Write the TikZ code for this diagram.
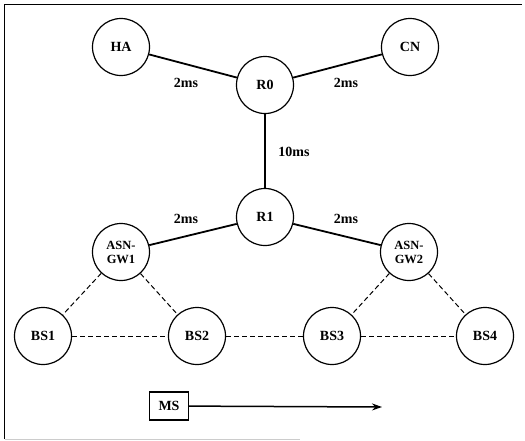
\documentclass[tikz,border=0pt]{standalone}
\usepackage{fontspec}
\setmainfont{Liberation Serif}
\usepackage{tikz}
\usetikzlibrary{arrows.meta}

\tikzset{
  netnode/.style={draw, circle, line width=1.2pt, minimum size=57pt, inner sep=0pt, align=center, font=\bfseries\fontsize{14}{14}\selectfont},
  delay/.style={font=\bfseries\fontsize{14}{14}\selectfont},
  wired/.style={line width=1.8pt},
  wireless/.style={line width=1pt, dash pattern=on 5pt off 3pt}
}

\begin{document}
\begin{tikzpicture}[x=1pt, y=-1pt]
                \useasboundingbox (0, 0) rectangle (525, 440);
                % Frame
                \draw[line width=1.2pt] (4.5, 439) -- (4.5, 4.5) -- (522, 4.5);
                \draw[black!20] (4.5, 439) -- (300, 439);

                % Core
                \node[netnode] (ha) at (121, 47) {HA};
                \node[netnode] (r0) at (265, 85) {R0};
                \node[netnode] (cn) at (410, 47) {CN};
                \node[netnode] (r1) at (265, 217) {R1};

                % Gateways
                \node[netnode, font=\bfseries\fontsize{12.5}{14}\selectfont] (gw1) at (121, 252) {ASN-\\GW1};
                \node[netnode, font=\bfseries\fontsize{12.5}{14}\selectfont] (gw2) at (409, 252) {ASN-\\GW2};

                % Base stations
                \node[netnode] (bs1) at (43, 336) {BS1};
                \node[netnode] (bs2) at (197, 336) {BS2};
                \node[netnode] (bs3) at (332, 336) {BS3};
                \node[netnode] (bs4) at (485, 336) {BS4};

                % Mobile station
                \node[draw, line width=1.2pt, minimum width=39pt, minimum height=28pt, delay] (ms) at (169, 406) {MS};
                \coordinate (msend) at (382, 407);

                % Wired links
                \draw[wired] (ha) -- (r0);
                \draw[wired] (cn) -- (r0);
                \draw[wired] (r0) -- (r1);
                \draw[wired] (r1) -- (gw1);
                \draw[wired] (r1) -- (gw2);

                % Delays
                \node[delay] (d1) at (186, 83) {2ms};
                \node[delay] (d2) at (346, 83) {2ms};
                \node[delay] (d3) at (294, 152) {10ms};
                \node[delay] (d4) at (186, 219) {2ms};
                \node[delay] (d5) at (346, 219) {2ms};

                % Radio links
                \draw[wireless] (gw1) -- (bs1);
                \draw[wireless] (gw1) -- (bs2);
                \draw[wireless] (gw2) -- (bs3);
                \draw[wireless] (gw2) -- (bs4);
                \draw[wireless] (bs1) -- (bs2);
                \draw[wireless] (bs2) -- (bs3);
                \draw[wireless] (bs3) -- (bs4);

                % Movement
                \draw[line width=1.5pt, -{Stealth[length=10pt, width=7pt]}] (ms) -- (msend);
            \end{tikzpicture}
\end{document}
